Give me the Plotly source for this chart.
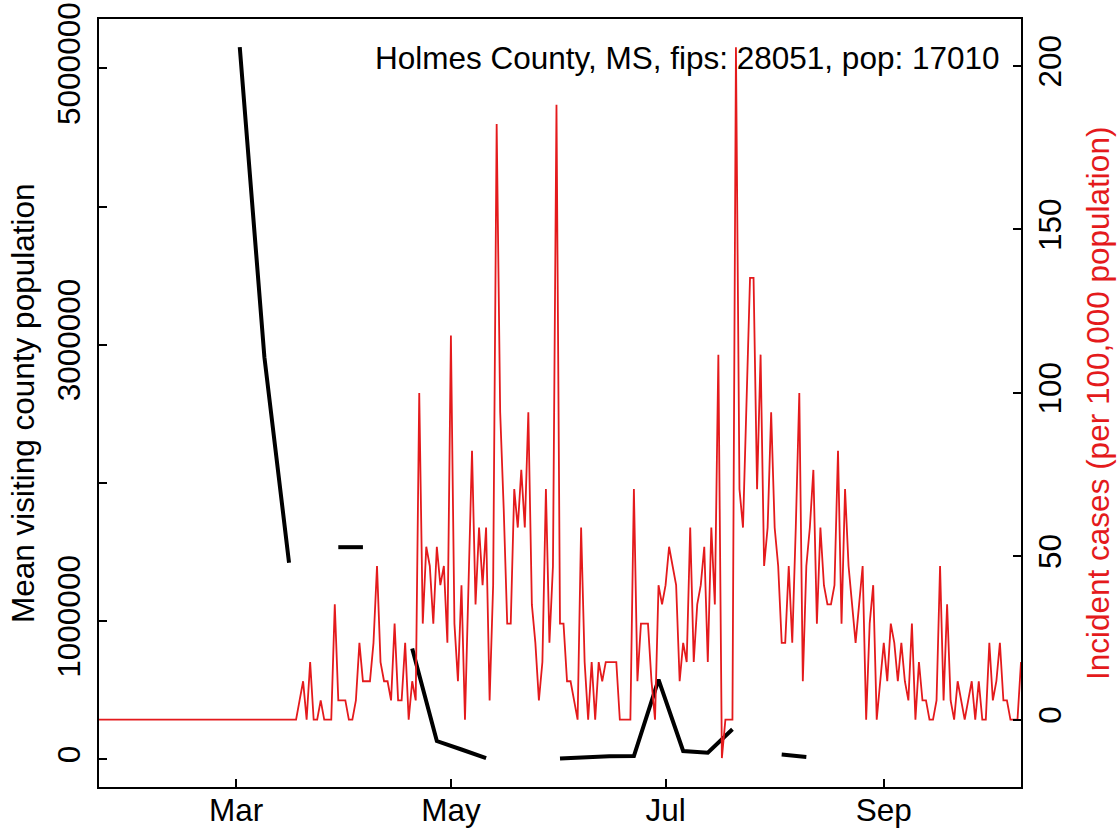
import pandas as pd
import plotly.graph_objects as go

# ---------------- data ----------------
county_label = "Holmes County, MS, fips: 28051, pop: 17010"
county_pop = 17010

# daily incident cases (counts), starting 2020-01-22
daily_cases = (
    [0] * 57 +                                   # Jan 22 - Mar 18
    [1, 2, 0, 3, 0, 0, 1, 0, 0, 0,               # Mar 19 - Mar 28
     6, 1, 1, 1, 0, 0, 1, 4, 2, 2,               # Mar 29 - Apr 7
     2, 4, 8, 3, 2, 2, 1, 5, 1, 1,               # Apr 8 - Apr 17
     4, 0, 2, 1, 17, 5, 9, 8, 5, 9,              # Apr 18 - Apr 27
     7, 8, 4, 20, 5, 2, 7, 0, 7, 14,             # Apr 28 - May 7
     6, 10, 7, 10, 1, 7, 31, 16, 11, 5,          # May 8 - May 17
     5, 12, 10, 13, 10, 16, 6, 4, 1, 3,          # May 18 - May 27
     12, 4, 8, 32, 5, 5, 2, 2, 1, 0,             # May 28 - Jun 6
     10, 3, 0, 3, 0, 3, 2, 3, 3, 3,              # Jun 7 - Jun 16
     3, 0, 0, 0, 0, 12, 2, 5, 5, 5,              # Jun 17 - Jun 26
     2, 0, 7, 6, 7, 9, 8, 7, 2, 4,               # Jun 27 - Jul 6
     3, 10, 3, 6, 7, 9, 3, 10, 6, 19,            # Jul 7 - Jul 16
     -2, 0, 0, 0, 35, 12, 10, 16, 23, 23,        # Jul 17 - Jul 26
     12, 19, 8, 10, 16, 10, 8, 4, 4, 8,          # Jul 27 - Aug 5
     4, 10, 17, 2, 8, 10, 13, 5, 10, 7,          # Aug 6 - Aug 15
     6, 6, 7, 14, 5, 12, 8, 6, 4, 6,             # Aug 16 - Aug 25
     8, 0, 5, 7, 0, 2, 4, 2, 5, 4,               # Aug 26 - Sep 4
     2, 4, 2, 1, 5, 0, 3, 1, 1, 0,               # Sep 5 - Sep 14
     0, 1, 8, 1, 6, 1, 0, 2, 1, 0,               # Sep 15 - Sep 24
     1, 2, 0, 2, 0, 0, 4, 1, 2, 4,               # Sep 25 - Oct 4
     1, 1, 0, 0, 0, 3]                           # Oct 5 - Oct 10
)
case_dates = pd.date_range("2020-01-22", periods=len(daily_cases), freq="D")
incidence_per_100k = [c * 100000 / county_pop for c in daily_cases]

# weekly mean visiting county population (None = missing)
visit_dates = pd.date_range("2020-03-02", periods=24, freq="7D")
visit_pop = [5154000, 2910000, 1423000, None, 1535000, 1535000, None,
             801000, 132000, 71000, 9000, None, None, 5000, 17000, 22000,
             24000, 577000, 60000, 48000, 217000, None, 34000, 17000]

x_tick_dates = ["2020-03-01", "2020-05-01", "2020-07-01", "2020-09-01"]
x_tick_text = ["Mar", "May", "Jul", "Sep"]
left_tick_vals = [0, 1000000, 2000000, 3000000, 4000000, 5000000]
left_tick_text = ["0", "1000000", "", "3000000", "", "5000000"]
right_tick_vals = [0, 50, 100, 150, 200]

# ---------------- figure ----------------
RED = "#E41A1C"
FONT = "Liberation Sans, Arial, Helvetica, sans-serif"
FS = 31.5

fig = go.Figure()
fig.add_trace(go.Scatter(x=visit_dates, y=visit_pop, mode="lines",
                         line=dict(color="black", width=4),
                         connectgaps=False, yaxis="y", showlegend=False))
fig.add_trace(go.Scatter(x=case_dates, y=incidence_per_100k, mode="lines",
                         line=dict(color=RED, width=1.8),
                         yaxis="y2", showlegend=False))

axis_common = dict(showline=True, linecolor="black", linewidth=2,
                   ticks="inside", ticklen=8, tickwidth=2, tickcolor="black",
                   showgrid=False, zeroline=False,
                   tickfont=dict(family=FONT, size=FS, color="black"))

fig.update_layout(
    width=1119, height=830,
    margin=dict(l=99, r=98, t=19, b=43, autoexpand=False),
    paper_bgcolor="white", plot_bgcolor="white",
    font=dict(family=FONT, size=FS, color="black"),
    xaxis=dict(type="date", range=["2020-01-22", "2020-10-10"],
               tickvals=x_tick_dates, ticktext=x_tick_text, mirror=True,
               ticklabelstandoff=-6, **axis_common),
    yaxis=dict(range=[-200400, 5357000], tickvals=left_tick_vals,
               ticktext=left_tick_text, tickangle=-90, ticklabelstandoff=4,
               **axis_common),
    yaxis2=dict(range=[-20.6, 214.4], overlaying="y", side="right",
                tickvals=right_tick_vals, tickangle=-90, **axis_common),
    annotations=[
        dict(text=county_label, xref="paper", yref="paper", x=0.979, y=0.949,
             xanchor="right", yanchor="middle", showarrow=False,
             font=dict(family=FONT, size=FS, color="black")),
        dict(text="Mean visiting county population", xref="paper", yref="paper",
             x=-0.0824, y=0.5, textangle=-90, xanchor="center", yanchor="middle",
             showarrow=False, font=dict(family=FONT, size=FS, color="black")),
        dict(text="Incident cases (per 100,000 population)", xref="paper",
             yref="paper", x=1.0835, y=0.5, textangle=-90, xanchor="center",
             yanchor="middle", showarrow=False,
             font=dict(family=FONT, size=FS, color=RED)),
    ],
)

fig.write_html("out.html", config={"displayModeBar": False},
               post_script="document.body.style.margin='0px';"
                           "document.body.style.overflow='hidden';")
